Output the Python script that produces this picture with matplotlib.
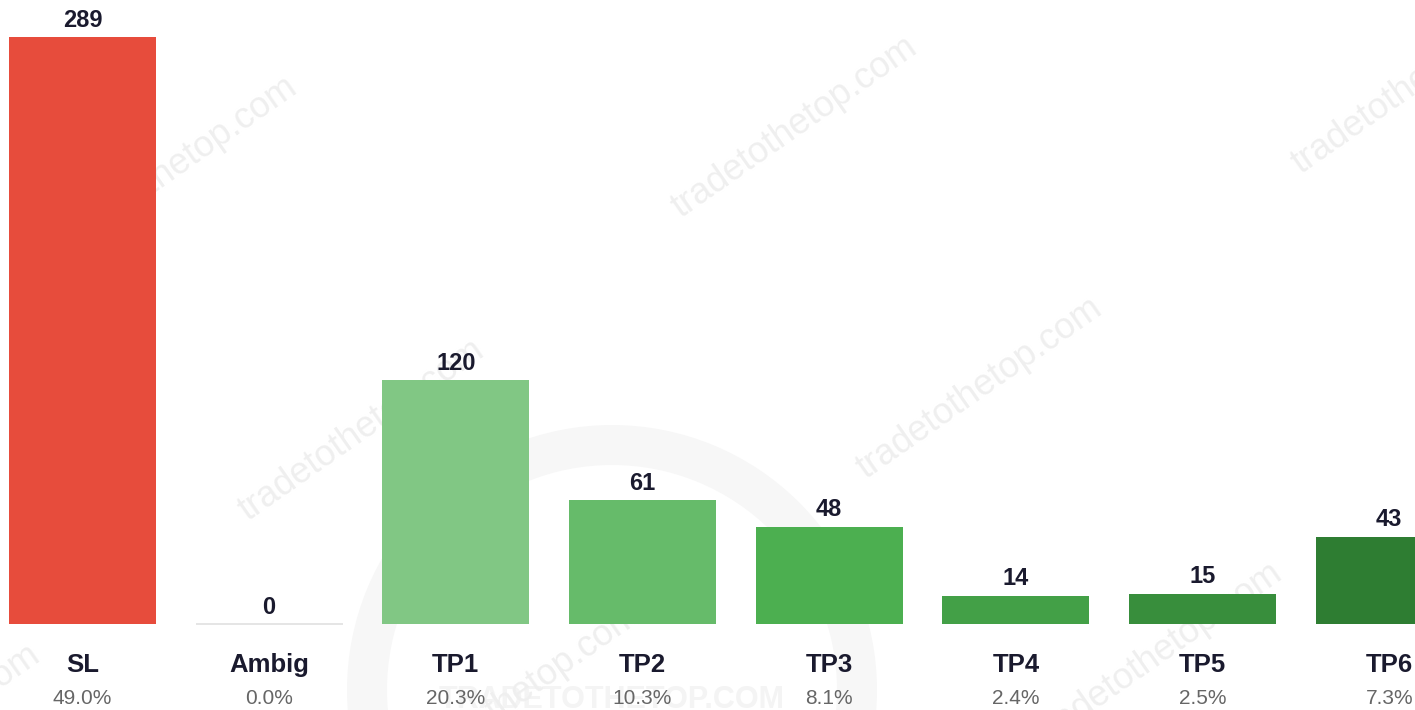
import numpy as np
import matplotlib
matplotlib.use("Agg")
import matplotlib.pyplot as plt
import matplotlib.patches as mpatches

categories = ["SL", "Ambig", "TP1", "TP2", "TP3", "TP4", "TP5", "TP6"]
counts = [289, 0, 120, 61, 48, 14, 15, 43]
colors = ["#e74c3c", "#e0e0e0", "#81c784", "#66bb6a", "#4caf50",
          "#43a047", "#388e3c", "#2e7d32"]

plt.rcParams['font.family'] = ['Liberation Sans', 'DejaVu Sans']
dark = "#1a1a2e"
grey = "#666666"

W, H = 1415, 710
fig = plt.figure(figsize=(W / 100, H / 100), dpi=100)
fig.patch.set_facecolor("white")

# background layer in pixel units (top-left origin): faint logo ring + watermarks
bg = fig.add_axes([0, 0, 1, 1], zorder=0)
bg.set_xlim(0, W)
bg.set_ylim(H, 0)
bg.axis("off")
bg.add_patch(mpatches.Wedge((612, 690), 265, 0, 360, width=40,
                            facecolor="#f7f7f7", edgecolor="none"))
bg.text(612, 700, "TRADETOTHETOP.COM", ha="center", va="center",
        fontsize=22, fontweight="bold", color="#f4f4f4", clip_on=True)

marks = [(175, 167), (795, 127), (1415, 83), (362, 430), (980, 388),
         (518, 695), (1160, 653), (-82, 735)]
for mx, my in marks:
    bg.text(mx, my, "tradetothetop.com", rotation=35, rotation_mode="anchor",
            ha="center", va="center", fontsize=26, color="#efefef", clip_on=True)

ax = fig.add_axes([0, 0, 1, 1], zorder=1)
ax.patch.set_alpha(0)
x = np.arange(len(categories))
total = sum(counts)
ax.bar(x, counts, width=0.7875, color=colors, zorder=2)

for i, v in enumerate(counts):
    if v == 0:
        ax.hlines(0, i - 0.7875 / 2, i + 0.7875 / 2, color=colors[i], lw=1.2, zorder=2)
    ax.annotate(str(v), xy=(i, v), xytext=(0, 7.5), textcoords="offset points",
                ha="center", va="baseline", fontsize=17, fontweight="bold", color=dark)
    ax.annotate(categories[i], xy=(i, 0), xytext=(0, -34.6), textcoords="offset points",
                ha="center", va="baseline", fontsize=18.5, fontweight="bold", color=dark)
    ax.annotate(f"{v / total * 100:.1f}%", xy=(i, 0), xytext=(0, -57.6),
                textcoords="offset points", ha="center", va="baseline",
                fontsize=15, color=grey)

ax.set_xlim(-82.5 / 186.67, (W - 82.5) / 186.67)
ax.set_ylim(-86 / 2.031, 624 / 2.031)
ax.axis("off")

fig.savefig("out.png", dpi=100)
